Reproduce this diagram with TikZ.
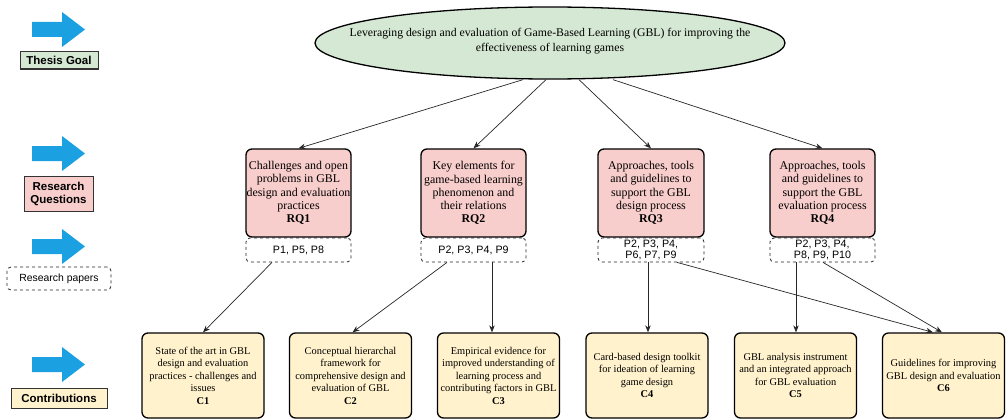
\documentclass[tikz,border=0pt]{standalone}
\usepackage{fontspec}
\setmainfont{Liberation Serif}
\setsansfont{Liberation Sans}
\usetikzlibrary{arrows.meta,shapes.geometric,calc}
\definecolor{gfill}{HTML}{D5E8D4}
\definecolor{rfill}{HTML}{F8CECC}
\definecolor{yfill}{HTML}{FFF2CC}
\definecolor{barrow}{HTML}{1BA1E2}
\tikzset{
  rqbox/.style={draw=black, line width=1.3pt, rounded corners=6pt, fill=rfill,
    minimum width=105, minimum height=88, inner sep=0pt, align=center,
    font=\fontsize{11.9}{13.2}\selectfont},
  cbox/.style={draw=black, line width=1.3pt, rounded corners=6pt, fill=yfill,
    minimum width=122, minimum height=85, inner sep=0pt, align=center,
    font=\fontsize{10.4}{12.5}\selectfont},
  pbox/.style={draw=black!85, dashed, line width=0.8pt, rounded corners=4pt,
    minimum width=105, minimum height=24, inner sep=0pt, align=center,
    font=\sffamily\fontsize{10.7}{11.3}\selectfont},
  link/.style={draw=black!85, line width=0.7pt, -{Stealth[length=7pt,width=5.5pt]}},
  lab/.style={draw=black!80, line width=1pt, font=\sffamily\bfseries\fontsize{11.5}{13}\selectfont,
    inner sep=0pt, align=center},
  pics/blockarrow/.style={code={
    \fill[barrow] (-26.5,-7.5) -- (3.5,-7.5) -- (3.5,-17.5) -- (26.5,0)
      -- (3.5,17.5) -- (3.5,7.5) -- (-26.5,7.5) -- cycle;}}
}
\begin{document}
\begin{tikzpicture}[x=1pt,y=-1pt]
\useasboundingbox (0,0) rectangle (1006,420);

% left legend
\pic at (58.5,29.5) {blockarrow};
\pic at (58.5,153.5) {blockarrow};
\pic at (58.5,246.5) {blockarrow};
\pic at (58.5,364.5) {blockarrow};
\node[lab, fill=gfill, minimum width=78, minimum height=17] (lgoal) at (59,60.5) {Thesis Goal};
\node[lab, fill=rfill, minimum width=69, minimum height=35] (lrq) at (58.5,193.5) {Research\\Questions};
\node[draw=black!85, dashed, rounded corners=4pt, line width=0.8pt, minimum width=104,
  minimum height=23, inner sep=0pt, font=\sffamily\fontsize{10.4}{12}\selectfont] (lpap) at (59,278.5) {Research papers};
\node[lab, fill=yfill, minimum width=96, minimum height=20] (lcon) at (59,398) {Contributions};

% goal
\node[ellipse, draw=black, line width=1.3pt, fill=gfill, minimum width=470,
  minimum height=72, inner sep=0pt] (goal) at (550,43) {};
\node[font=\fontsize{11.75}{14.5}\selectfont, align=center] (goaltext) at ([yshift=2]goal.center)
  {Leveraging design and evaluation of Game-Based Learning (GBL) for improving the\\effectiveness of learning games};

% research questions
\node[rqbox] (rq1) at (298.5,193) {Challenges and open\\problems in GBL\\design and evaluation\\practices\\\textbf{RQ1}};
\node[rqbox] (rq2) at (473.5,193) {Key elements for\\game-based learning\\phenomenon and\\their relations\\\textbf{RQ2}};
\node[rqbox, minimum width=106] (rq3) at (651,193) {Approaches, tools\\and guidelines to\\support the GBL\\design process\\\textbf{RQ3}};
\node[rqbox] (rq4) at (822.5,193) {Approaches, tools\\and guidelines to\\support the GBL\\evaluation process\\\textbf{RQ4}};

% papers
\node[pbox] (p1) at (298.5,250) {P1, P5, P8};
\node[pbox] (p2) at (473.5,250) {P2, P3, P4, P9};
\node[pbox, minimum width=106] (p3) at (651,250) {P2, P3, P4,\\P6, P7, P9};
\node[pbox] (p4) at (822.5,250) {P2, P3, P4,\\P8, P9, P10};

% contributions
\node[cbox] (c1) at (203,375.5) {State of the art in GBL\\design and evaluation\\practices - challenges and\\issues\\\textbf{C1}};
\node[cbox] (c2) at (350.5,375.5) {Conceptual hierarchal\\framework for\\comprehensive design and\\evaluation of GBL\\\textbf{C2}};
\node[cbox] (c3) at (498.5,375.5) {Empirical evidence for\\improved understanding of\\learning process and\\contributing factors in GBL\\\textbf{C3}};
\node[cbox] (c4) at (647,375.5) {Card-based design toolkit\\for ideation of learning\\game design\\\textbf{C4}};
\node[cbox] (c5) at (795.5,375.5) {GBL analysis instrument\\and an integrated approach\\for GBL evaluation\\\textbf{C5}};
\node[cbox] (c6) at (943.5,375.5) {Guidelines for improving\\GBL design and evaluation\\\textbf{C6}};

% goal -> RQs
\draw[link] ([xshift=-27]goal.south) -- (rq1.north);
\draw[link] ([xshift=-4]goal.south) -- (rq2.north);
\draw[link] ([xshift=29]goal.south) -- (rq3.north);
\draw[link] ([xshift=63]goal.south) -- (rq4.north);

% papers -> contributions
\draw[link] ([xshift=-26.5]p1.south) -- (c1.north);
\draw[link] ([xshift=-26.5]p2.south) -- ([xshift=2]c2.north);
\draw[link] ([xshift=18.5]p2.south) -- ([xshift=18.5]p2.south |- c3.north);
\draw[link] ([xshift=-3]p3.south) -- ([xshift=-3]p3.south |- c4.north);
\draw[link] ([xshift=26]p3.south) -- ([xshift=-10.5]c6.north);
\draw[link] ([xshift=-26.5]p4.south) -- ([xshift=-26.5]p4.south |- c5.north);
\draw[link] ([xshift=0.5]p4.south) -- ([xshift=-1.5]c6.north);
\end{tikzpicture}
\end{document}
